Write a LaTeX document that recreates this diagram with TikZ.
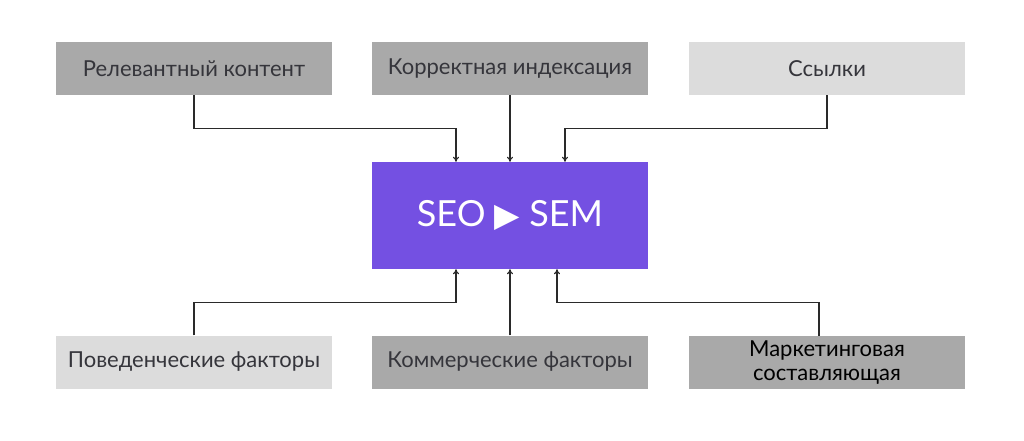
\documentclass[tikz,border=0pt]{standalone}
\usepackage{fontspec}
\setmainfont{Lato}
\newfontfamily\symfont{DejaVu Sans}
\usetikzlibrary{arrows.meta}
\definecolor{darkbox}{HTML}{A9A9A9}
\definecolor{lightbox}{HTML}{DCDCDC}
\definecolor{purp}{HTML}{7450E2}
\definecolor{txt}{HTML}{35353B}
\definecolor{linec}{HTML}{2A2A2A}
\begin{document}
\begin{tikzpicture}[x=1pt,y=-1pt,
  box/.style={minimum width=276pt,minimum height=53pt,inner sep=0pt,text=txt,
    font=\fontsize{22}{24}\selectfont,align=center},
  dbox/.style={box,fill=darkbox},
  lbox/.style={box,fill=lightbox},
  arr/.style={draw=linec,line width=1.1pt,-{To[length=5pt,width=6pt]}}]
\useasboundingbox[fill=white] (0,0) rectangle (1024,440);
\node[dbox] (b1) at (194,68.5) {Релевантный контент};
\node[dbox] (b2) at (510,68.5) {Корректная индексация};
\node[lbox] (b3) at (827,68.5) {Ссылки};
\node[fill=purp,minimum width=276pt,minimum height=107pt,inner sep=0pt,text=white,
  font=\fontsize{36}{40}\selectfont] (c) at (510,215.5) {SEO {\symfont\fontsize{33}{36}\selectfont ▶} SEM};
\node[lbox] (b4) at (194,362) {Поведенческие факторы};
\node[dbox] (b5) at (510,362) {Коммерческие факторы};
\node[dbox,text=black,font=\fontsize{22}{24}\selectfont] (b6) at (827,362.5) {Маркетинговая\\составляющая};
\draw[arr] (b1.south) -- ++(0,33) -| ([xshift=-54pt]c.north);
\draw[arr] (b2.south) -- (c.north);
\draw[arr] (b3.south) -- ++(0,33) -| ([xshift=55pt]c.north);
\draw[arr] (b4.north) -- ++(0,-33) -| ([xshift=-54pt]c.south);
\draw[arr] (b5.north) -- (c.south);
\draw[arr] ([xshift=-8pt]b6.north) -- ++(0,-33) -| ([xshift=47pt]c.south);
\end{tikzpicture}
\end{document}
